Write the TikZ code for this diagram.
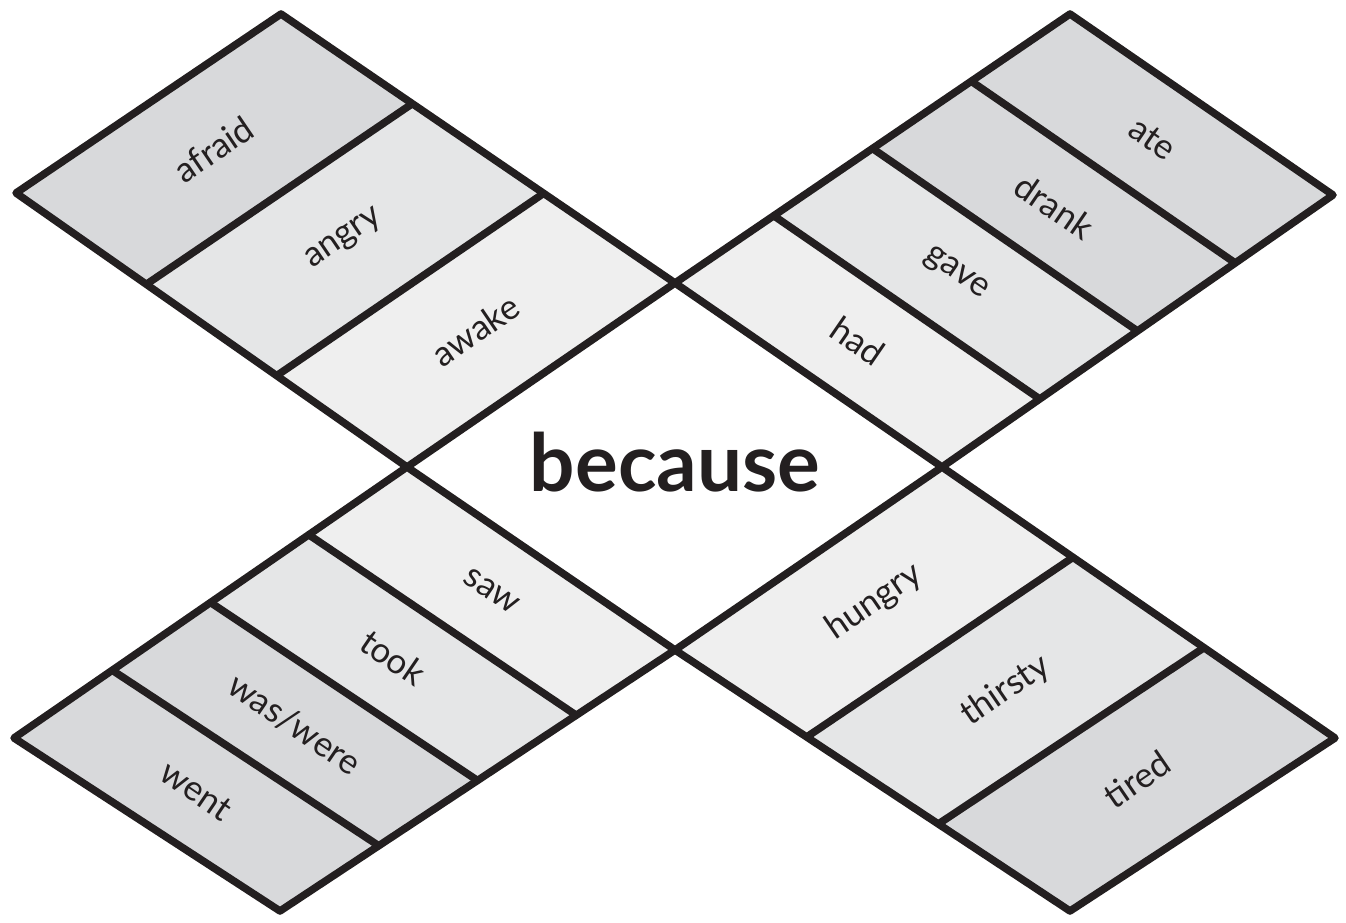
\documentclass[tikz,border=0pt]{standalone}
\usepackage{fontspec}
\setmainfont{Lato}
\usetikzlibrary{calc}
\definecolor{ink}{HTML}{231F20}
\definecolor{gdark}{HTML}{D8D9DB}
\definecolor{gmid}{HTML}{E5E6E7}
\definecolor{glight}{HTML}{EFEFEF}
\tikzset{
  outline/.style={line width=7.5pt, line join=round, draw=ink},
  lbl/.style={font=\fontsize{35}{35}\selectfont, text=ink, inner sep=0pt},
  title/.style={font=\fontsize{80}{80}\selectfont\bfseries, text=ink, inner sep=0pt},
}
\begin{document}
\begin{tikzpicture}[x=1pt,y=1pt]
\useasboundingbox (0,0) rectangle (1346,922);
% inner diamond
\coordinate (T) at (675,639);
\coordinate (L) at (407,455);
\coordinate (R) at (942,455);
\coordinate (B) at (675,272);
% outer corners
\coordinate (A1) at (281,908);
\coordinate (A2) at (16,729);
\coordinate (B1) at (1070,908);
\coordinate (B2) at (1333,727);
\coordinate (C1) at (280,11);
\coordinate (C2) at (14,184);
\coordinate (D1) at (1070,11);
\coordinate (D2) at (1335,184);
% TL dividers (thirds)
\coordinate (tlp1) at ($(A1)!1/3!(T)$);
\coordinate (tlp2) at ($(A1)!2/3!(T)$);
\coordinate (tlq1) at ($(A2)!1/3!(L)$);
\coordinate (tlq2) at ($(A2)!2/3!(L)$);
% TR dividers (quarters), from outer
\coordinate (trp1) at ($(B1)!1/4!(T)$);
\coordinate (trp2) at ($(B1)!2/4!(T)$);
\coordinate (trp3) at ($(B1)!3/4!(T)$);
\coordinate (trq1) at ($(B2)!1/4!(R)$);
\coordinate (trq2) at ($(B2)!2/4!(R)$);
\coordinate (trq3) at ($(B2)!3/4!(R)$);
% BL dividers (quarters), from inner
\coordinate (blp1) at ($(L)!1/4!(C2)$);
\coordinate (blp2) at ($(L)!2/4!(C2)$);
\coordinate (blp3) at ($(L)!3/4!(C2)$);
\coordinate (blq1) at ($(B)!1/4!(C1)$);
\coordinate (blq2) at ($(B)!2/4!(C1)$);
\coordinate (blq3) at ($(B)!3/4!(C1)$);
% BR dividers (thirds), from inner
\coordinate (brp1) at ($(R)!1/3!(D2)$);
\coordinate (brp2) at ($(R)!2/3!(D2)$);
\coordinate (brq1) at ($(B)!1/3!(D1)$);
\coordinate (brq2) at ($(B)!2/3!(D1)$);
% fills TL
\fill[gdark] (A1) -- (tlp1) -- (tlq1) -- (A2) -- cycle;
\fill[gmid] (tlp1) -- (tlp2) -- (tlq2) -- (tlq1) -- cycle;
\fill[glight] (tlp2) -- (T) -- (L) -- (tlq2) -- cycle;
% fills TR
\fill[gdark] (B1) -- (trp1) -- (trq1) -- (B2) -- cycle;
\fill[gdark] (trp1) -- (trp2) -- (trq2) -- (trq1) -- cycle;
\fill[gmid] (trp2) -- (trp3) -- (trq3) -- (trq2) -- cycle;
\fill[glight] (trp3) -- (T) -- (R) -- (trq3) -- cycle;
% fills BL
\fill[glight] (L) -- (blp1) -- (blq1) -- (B) -- cycle;
\fill[gmid] (blp1) -- (blp2) -- (blq2) -- (blq1) -- cycle;
\fill[gdark] (blp2) -- (blp3) -- (blq3) -- (blq2) -- cycle;
\fill[gdark] (blp3) -- (C2) -- (C1) -- (blq3) -- cycle;
% fills BR
\fill[glight] (R) -- (brp1) -- (brq1) -- (B) -- cycle;
\fill[gmid] (brp1) -- (brp2) -- (brq2) -- (brq1) -- cycle;
\fill[gdark] (brp2) -- (D2) -- (D1) -- (brq2) -- cycle;
% outlines
\draw[outline] (A1) -- (T) -- (L) -- (A2) -- cycle;
\draw[outline] (B1) -- (B2) -- (R) -- (T) -- cycle;
\draw[outline] (L) -- (B) -- (C1) -- (C2) -- cycle;
\draw[outline] (R) -- (D2) -- (D1) -- (B) -- cycle;
\draw[outline] (tlp1) -- (tlq1) (tlp2) -- (tlq2);
\draw[outline] (trp1) -- (trq1) (trp2) -- (trq2) (trp3) -- (trq3);
\draw[outline] (blp1) -- (blq1) (blp2) -- (blq2) (blp3) -- (blq3);
\draw[outline] (brp1) -- (brq1) (brp2) -- (brq2);
% labels
\node[lbl, rotate=34.2] (afraid) at ($(A1)!0.5!(tlq1)$) {afraid};
\node[lbl, rotate=34.2] (angry) at ($(tlp1)!0.5!(tlq2)$) {angry};
\node[lbl, rotate=34.2] (awake) at ($(tlp2)!0.5!(L)$) {awake};
\node[lbl, rotate=-34.5] (ate) at ($(B1)!0.5!(trq1)$) {ate};
\node[lbl, rotate=-34.5] (drank) at ($(trp1)!0.5!(trq2)$) {drank};
\node[lbl, rotate=-34.5] (gave) at ($(trp2)!0.5!(trq3)$) {gave};
\node[lbl, rotate=-34.5] (had) at ($(trp3)!0.5!(R)$) {had};
\node[lbl, rotate=-34.3] (saw) at ($(L)!0.5!(blq1)$) {saw};
\node[lbl, rotate=-34.3] (took) at ($(blp1)!0.5!(blq2)$) {took};
\node[lbl, rotate=-34.3] (waswere) at ($(blp2)!0.5!(blq3)$) {was/were};
\node[lbl, rotate=-34.3] (went) at ($(blp3)!0.5!(C1)$) {went};
\node[lbl, rotate=34.4] (hungry) at ($(R)!0.5!(brq1)$) {hungry};
\node[lbl, rotate=34.4] (thirsty) at ($(brp1)!0.5!(brq2)$) {thirsty};
\node[lbl, rotate=34.4] (tired) at ($(brp2)!0.5!(D1)$) {tired};
\node[title] (because) at (675,460) {because};
\end{tikzpicture}
\end{document}
